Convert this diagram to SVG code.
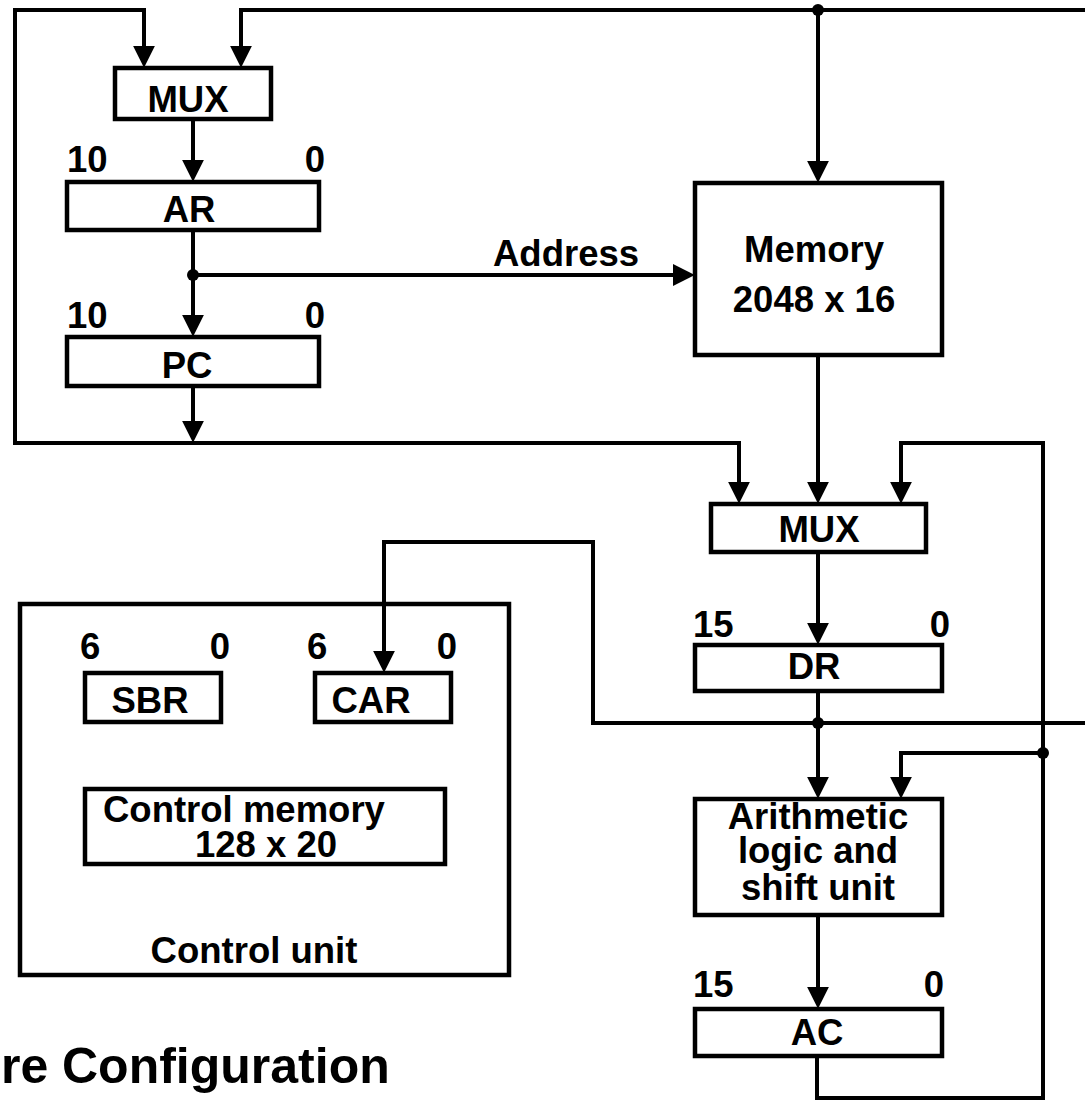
<svg xmlns="http://www.w3.org/2000/svg" width="1085" height="1101" viewBox="0 0 1085 1101">
<style>
.box{fill:none;stroke:#000;stroke-width:4.5}
.w{fill:none;stroke:#000;stroke-width:4;stroke-linejoin:miter}
.t{font-family:"Liberation Sans",Arial,sans-serif;font-weight:bold;font-size:36.5px;fill:#000}
.m{text-anchor:middle}
.e{text-anchor:end}
.title{font-size:50px}
</style>
<defs>
<marker id="ah" markerUnits="userSpaceOnUse" markerWidth="22" markerHeight="22" refX="2" refY="10" orient="auto" viewBox="0 0 20 20">
<path d="M0,0 L20,10 L0,20 z" fill="#000"/>
</marker>
</defs>
<rect width="1085" height="1101" fill="#fff"/>
<g id="connectors">
<path class="w" d="M193,443 L15,443 L15,10 L144,10 L144,48" marker-end="url(#ah)"/>
<path class="w" d="M193,443 L739,443 L739,484" marker-end="url(#ah)"/>
<path class="w" d="M193,386 L193,423" marker-end="url(#ah)"/>
<path class="w" d="M1085,10 L241,10 L241,48" marker-end="url(#ah)"/>
<path class="w" d="M818,10 L818,163" marker-end="url(#ah)"/>
<circle cx="818" cy="10" r="6"/>
<path class="w" d="M193,119 L193,162" marker-end="url(#ah)"/>
<path class="w" d="M193,230 L193,317" marker-end="url(#ah)"/>
<path class="w" d="M193,275 L675,275" marker-end="url(#ah)"/>
<circle cx="193" cy="275" r="6"/>
<path class="w" d="M818,355 L818,484" marker-end="url(#ah)"/>
<path class="w" d="M1043,753 L1043,1098 L817,1098 L817,1056"/>
<path class="w" d="M1043,753 L1043,443 L901,443 L901,484" marker-end="url(#ah)"/>
<path class="w" d="M818,552 L818,625" marker-end="url(#ah)"/>
<path class="w" d="M818,691 L818,779" marker-end="url(#ah)"/>
<path class="w" d="M1085,723 L593,723 L593,542 L384,542 L384,653" marker-end="url(#ah)"/>
<circle cx="818" cy="723" r="6"/>
<path class="w" d="M1043,753 L901,753 L901,779" marker-end="url(#ah)"/>
<circle cx="1043" cy="753" r="6"/>
<path class="w" d="M818,915 L818,989" marker-end="url(#ah)"/>
</g>
<g id="mux1"><rect class="box" x="115" y="68" width="156" height="51"/><text class="t m" x="188" y="112">MUX</text></g>
<g id="ar"><rect class="box" x="67" y="182" width="252" height="48"/><text class="t m" x="189" y="222">AR</text><text class="t" x="67" y="172">10</text><text class="t e" x="325" y="172">0</text></g>
<g id="pc"><rect class="box" x="67" y="337" width="252" height="49"/><text class="t m" x="187" y="378">PC</text><text class="t" x="67" y="328">10</text><text class="t e" x="325" y="328">0</text></g>
<g id="address-label"><text class="t" x="493" y="266">Address</text></g>
<g id="memory"><rect class="box" x="695" y="183" width="247" height="172"/><text class="t m" x="814" y="262">Memory</text><text class="t m" x="814" y="312">2048 x 16</text></g>
<g id="mux2"><rect class="box" x="711" y="504" width="215" height="48"/><text class="t m" x="819" y="542">MUX</text></g>
<g id="dr"><rect class="box" x="695" y="645" width="247" height="46"/><text class="t m" x="814" y="679">DR</text><text class="t" x="693" y="637">15</text><text class="t e" x="950" y="637">0</text></g>
<g id="alu"><rect class="box" x="695" y="799" width="247" height="116"/><text class="t m" x="818" y="829">Arithmetic</text><text class="t m" x="818" y="863">logic and</text><text class="t m" x="818" y="900">shift unit</text></g>
<g id="ac"><rect class="box" x="695" y="1009" width="247" height="47"/><text class="t m" x="817" y="1045">AC</text><text class="t" x="693" y="997">15</text><text class="t e" x="944" y="997">0</text></g>
<g id="control-unit"><rect class="box" x="20" y="604" width="489" height="371"/><text class="t m" x="254" y="963">Control unit</text></g>
<g id="sbr"><rect class="box" x="85" y="673" width="136" height="49"/><text class="t m" x="150" y="713">SBR</text><text class="t" x="80" y="659">6</text><text class="t e" x="230" y="659">0</text></g>
<g id="car"><rect class="box" x="315" y="673" width="136" height="49"/><text class="t m" x="371" y="713">CAR</text><text class="t" x="307" y="659">6</text><text class="t e" x="457" y="659">0</text></g>
<g id="control-memory"><rect class="box" x="85" y="789" width="360" height="75"/><text class="t" x="103" y="822">Control memory</text><text class="t" x="195" y="857">128 x 20</text></g>
<g id="title"><text class="t title" x="1" y="1083">re <tspan x="62">Configuration</tspan></text></g>
</svg>
